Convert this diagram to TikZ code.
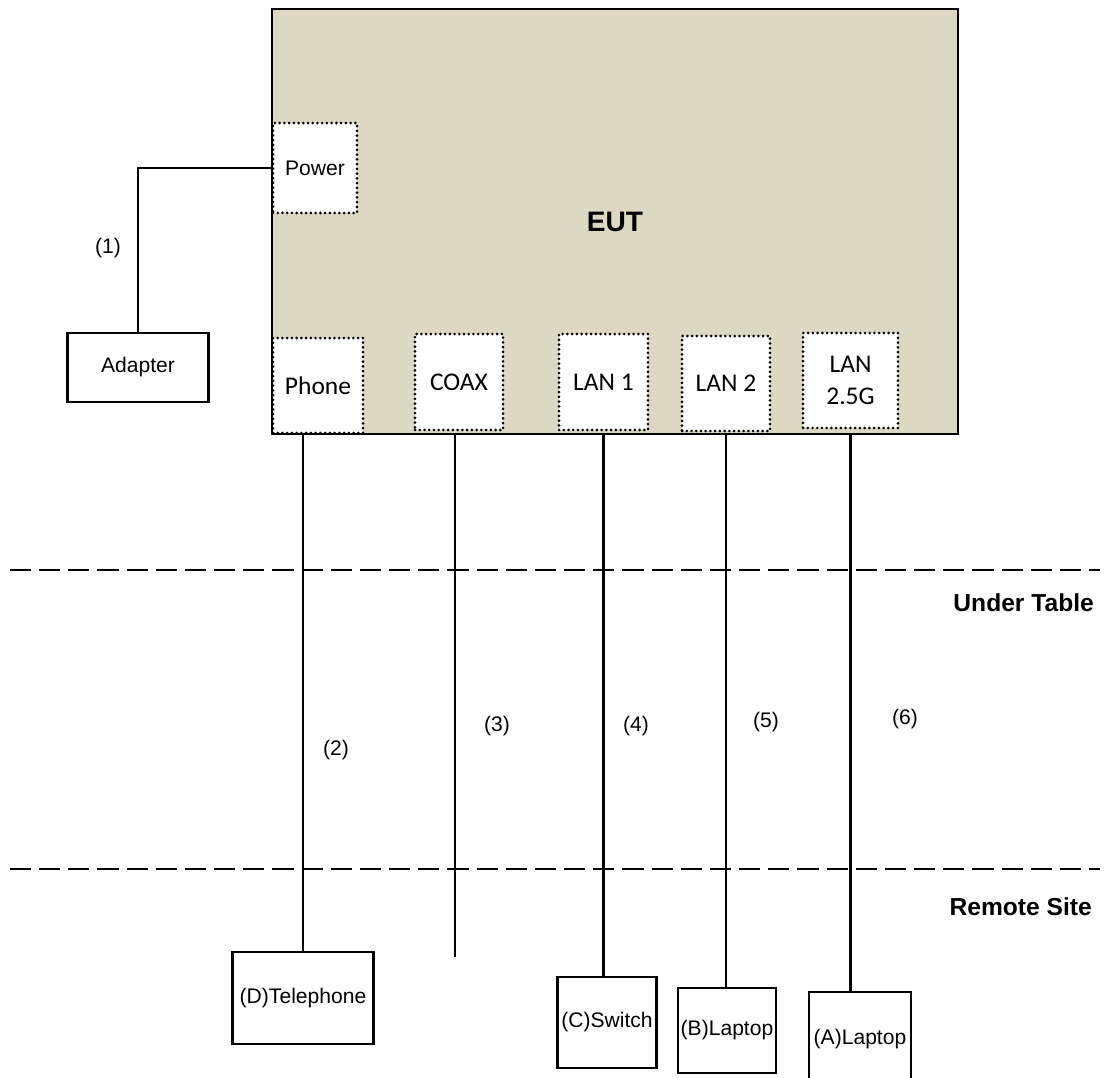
\documentclass[tikz,border=0pt]{standalone}
\usepackage{fontspec}
\setmainfont{Liberation Sans}
\newfontfamily\calibri{Carlito}
\usepackage{xcolor}
\usepackage{tikz}
\usetikzlibrary{positioning}
\definecolor{euttan}{RGB}{221,216,195}

\begin{document}
\begin{tikzpicture}[x=0.02cm, y=-0.02cm,
        eutbox/.style={rectangle, draw=black, fill=euttan, line width=1.6pt, minimum width=13.72cm, minimum height=8.5cm, inner sep=0pt, font=\fontsize{16}{19}\selectfont\bfseries},
        port/.style={rectangle, draw=black, fill=white, line width=1.7pt, dash pattern=on 0pt off 2.7pt, line cap=round, inner sep=0pt, align=center, font=\calibri\fontsize{14.5}{18}\selectfont},
        device/.style={rectangle, draw=black, fill=white, line width=1.2pt, inner sep=0.5pt, font=\fontsize{12}{14}\selectfont},
        cable/.style={line width=1.2pt},
        zone/.style={line width=1.6pt, dash pattern=on 12pt off 4.6pt},
        cablenum/.style={font=\fontsize{12}{14}\selectfont},
        zonelabel/.style={anchor=east, font=\fontsize{14}{17}\selectfont\bfseries}
    ]
        \useasboundingbox (0,0) rectangle (1109,1078);

        \node[eutbox] (eut) at (615,221.5) {EUT};

        \node[port, minimum width=1.68cm, minimum height=1.8cm, font=\fontsize{12}{14}\selectfont] (power) at (315,168) {Power};
        \node[port, minimum width=1.8cm, minimum height=1.9cm] (phone) at (318,385.5) {Phone};
        \node[port, minimum width=1.76cm, minimum height=1.92cm] (coax) at (459,382) {COAX};
        \node[port, minimum width=1.78cm, minimum height=1.92cm] (lan1) at (603.5,382) {LAN 1};
        \node[port, minimum width=1.76cm, minimum height=1.9cm] (lan2) at (726,383.5) {LAN 2};
        \node[port, minimum width=1.9cm, minimum height=1.9cm] (lan25) at (850.5,380.5) {LAN\\2.5G};

        \node[device, minimum width=2.82cm, minimum height=1.38cm] (adapter) at (138,367.5) {Adapter};
        \node[device, minimum width=2.82cm, minimum height=1.84cm] (tel) at (303,998) {(D)Telephone};
        \node[device, minimum width=1.98cm, minimum height=1.82cm] (sw) at (607,1022.5) {(C)Switch};
        \node[device, minimum width=1.96cm, minimum height=1.7cm] (lapB) at (727,1030.5) {(B)Laptop};
        \node[device, minimum width=2.04cm, minimum height=1.9cm] (lapA) at (860,1039.5) {(A)Laptop};
        \coordinate (coaxend) at (455,957);

        % Zones
        \draw[zone] (10,570) -- (1100,570);
        \draw[zone] (10,869) -- (1100,869);
        \node[zonelabel] (undertable) at (1100,603) {Under Table};
        \node[zonelabel] (remotesite) at (1098,907) {Remote Site};

        % Connectors
        \draw[cable] (power.west) -| (adapter.north);
        \draw[cable] (tel.north |- eut.south) -- (tel.north);
        \draw[cable] (coaxend |- eut.south) -- (coaxend);
        \draw[cable] (lan1.south |- eut.south) -- (lan1.south |- sw.north);
        \draw[cable] (lan2.south |- eut.south) -- (lan2.south |- lapB.north);
        \draw[cable] (lan25.south |- eut.south) -- (lan25.south |- lapA.north);

        % Cable numbers
        \node[cablenum] (c1) at (108,248) {(1)};
        \node[cablenum] (c2) at (336,750) {(2)};
        \node[cablenum] (c3) at (497,726) {(3)};
        \node[cablenum] (c4) at (636,726) {(4)};
        \node[cablenum] (c5) at (766,722) {(5)};
        \node[cablenum] (c6) at (905,719) {(6)};

    \end{tikzpicture}
\end{document}
